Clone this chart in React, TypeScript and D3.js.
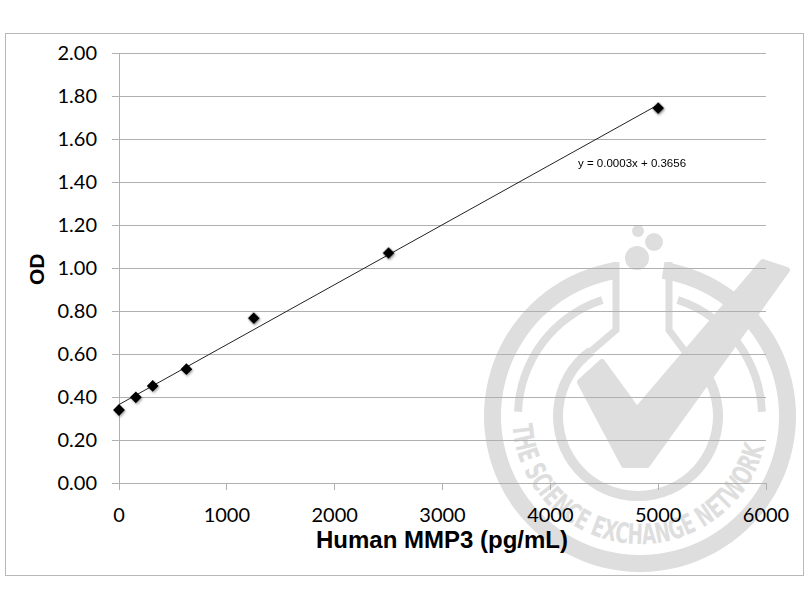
import React from "react";
import * as d3 from "d3";

// ---- data ----
const concentrations = [0, 156.25, 312.5, 625, 1250, 2500, 5000];
const odValues = [0.341, 0.4, 0.453, 0.531, 0.768, 1.071, 1.745];
const xTicks = [0, 1000, 2000, 3000, 4000, 5000, 6000];
const yTicks = [0, 0.2, 0.4, 0.6, 0.8, 1.0, 1.2, 1.4, 1.6, 1.8, 2.0];
const equationLabel = "y = 0.0003x + 0.3656";
const xTitle = "Human MMP3 (pg/mL)";
const yTitle = "OD";
const watermarkText = "THE SCIENCE EXCHANGE NETWORK";

const W = 810;
const H = 610;
const plot = { left: 119, right: 766, top: 53.3, bottom: 483.3 };

export default function App() {
  const x = d3.scaleLinear().domain([0, 6000]).range([plot.left, plot.right]);
  const y = d3.scaleLinear().domain([0, 2]).range([plot.bottom, plot.top]);

  // least squares trend line
  const mx = d3.mean(concentrations) as number;
  const my = d3.mean(odValues) as number;
  let sxy = 0;
  let sxx = 0;
  concentrations.forEach((c, i) => {
    sxy += (c - mx) * (odValues[i] - my);
    sxx += (c - mx) * (c - mx);
  });
  const slope = sxy / sxx;
  const intercept = my - slope * mx;
  const x0 = d3.min(concentrations) as number;
  const x1 = d3.max(concentrations) as number;
  const trend = d3
    .line<number>()
    .x((d) => x(d))
    .y((d) => y(intercept + slope * d))([x0, x1]);

  const diamond = d3.symbol().type(d3.symbolSquare).size(70)() as string;

  // watermark geometry
  const wm = "#dedede";
  const cx = 640;
  const cy = 416;
  const deg = Math.PI / 180;
  const outerRing = d3.arc()({
    innerRadius: 139,
    outerRadius: 156,
    startAngle: 9 * deg,
    endAngle: 351 * deg,
  }) as string;
  const midLeft = d3.arc()({
    innerRadius: 118,
    outerRadius: 126,
    startAngle: -88 * deg,
    endAngle: -18 * deg,
  }) as string;
  const midRight = d3.arc()({
    innerRadius: 118,
    outerRadius: 126,
    startAngle: 18 * deg,
    endAngle: 88 * deg,
  }) as string;
  const icx = 638;
  const icy = 416;
  const innerR = 80;
  const innerRing = d3.arc()({
    innerRadius: innerR - 5,
    outerRadius: innerR + 5,
    startAngle: 36 * deg,
    endAngle: 324 * deg,
  }) as string;
  const pL = [icx + innerR * Math.sin(-36 * deg), icy - innerR * Math.cos(-36 * deg)];
  const pR = [icx + innerR * Math.sin(36 * deg), icy - innerR * Math.cos(36 * deg)];
  const textR = 128;
  const a0 = 266 * deg;
  const a1 = 94 * deg;
  const tStart = [cx + textR * Math.sin(a0), cy - textR * Math.cos(a0)];
  const tEnd = [cx + textR * Math.sin(a1), cy - textR * Math.cos(a1)];
  const textArc = `M${tStart[0]},${tStart[1]} A${textR},${textR} 0 0 0 ${tEnd[0]},${tEnd[1]}`;
  const check = [
    [580, 382],
    [602, 362],
    [637, 410],
    [763, 262],
    [787, 270],
    [647, 465],
    [624, 465],
  ];

  return (
    <svg
      width={W}
      height={H}
      style={{ position: "absolute", left: 0, top: 0, background: "#fff" }}
    >
      <defs>
        <filter id="shadow" x="-50%" y="-50%" width="200%" height="200%">
          <feDropShadow dx="1" dy="1.5" stdDeviation="0.8" floodColor="#000" floodOpacity="0.35" />
        </filter>
        <path id="wmTextPath" d={textArc} />
      </defs>
      <rect x={5.5} y={33.5} width={798} height={542} fill="#fff" stroke="#b8b8b8" strokeWidth={1} />

      {/* watermark */}
      <g fill={wm} stroke="none">
        <path d={outerRing} transform={`translate(${cx},${cy})`} />
        <path d={midLeft} transform={`translate(${cx},${cy})`} />
        <path d={midRight} transform={`translate(${cx},${cy})`} />
        <path d={innerRing} transform={`translate(${icx},${icy})`} />
        <polyline
          points={`${pL[0]},${pL[1]} 616,330 616,262`}
          fill="none"
          stroke={wm}
          strokeWidth={7}
          strokeLinejoin="miter"
        />
        <polyline
          points={`${pR[0]},${pR[1]} 669,330 669,262`}
          fill="none"
          stroke={wm}
          strokeWidth={7}
          strokeLinejoin="miter"
        />
        <circle cx={637} cy={258} r={12} />
        <circle cx={654} cy={242} r={9} />
        <circle cx={638} cy={231} r={6} />
        <polygon
          points={check.map((p) => p.join(",")).join(" ")}
          stroke={wm}
          strokeWidth={6}
          strokeLinejoin="round"
        />
        <text
          fontFamily="'DejaVu Sans Condensed', 'DejaVu Sans', sans-serif"
          fontSize={28}
          fontWeight="bold"
          fill={wm}
        >
          <textPath href="#wmTextPath" textLength={362} lengthAdjust="spacingAndGlyphs">
            {watermarkText}
          </textPath>
        </text>
      </g>

      {/* gridlines */}
      <g stroke="#b0b0b0" strokeWidth={1} shapeRendering="crispEdges">
        {yTicks.map((t) => (
          <line key={t} x1={plot.left - 7} x2={plot.right} y1={y(t)} y2={y(t)} />
        ))}
        <line x1={plot.left} x2={plot.left} y1={plot.top} y2={plot.bottom} />
        {xTicks.map((t) => (
          <line key={t} x1={x(t)} x2={x(t)} y1={plot.bottom} y2={plot.bottom + 7} />
        ))}
      </g>

      {/* tick labels */}
      <g fontFamily="Lato, 'Open Sans', sans-serif" fontSize={20} fill="#000">
        {yTicks.map((t) => (
          <text key={t} x={97} y={y(t) + 7} textAnchor="end">
            {d3.format(".2f")(t)}
          </text>
        ))}
        {xTicks.map((t) => (
          <text key={t} x={x(t)} y={522} textAnchor="middle">
            {t}
          </text>
        ))}
      </g>

      {/* axis titles */}
      <text
        x={442}
        y={548}
        textAnchor="middle"
        fontFamily="'Liberation Sans', Arial, sans-serif"
        fontWeight="bold"
        fontSize={24}
      >
        {xTitle}
      </text>
      <text
        transform={`translate(44,${(plot.top + plot.bottom) / 2 + 1}) rotate(-90)`}
        textAnchor="middle"
        fontFamily="'Liberation Sans', Arial, sans-serif"
        fontWeight="bold"
        fontSize={21}
      >
        {yTitle}
      </text>

      {/* trend line */}
      <path d={trend as string} fill="none" stroke="#222" strokeWidth={1} />

      {/* markers */}
      <g filter="url(#shadow)">
        {concentrations.map((c, i) => (
          <path
            key={c}
            d={diamond}
            transform={`translate(${x(c)},${y(odValues[i])}) rotate(45)`}
            fill="#000"
          />
        ))}
      </g>

      <text
        x={578}
        y={167}
        fontFamily="'Liberation Sans', Arial, sans-serif"
        fontSize={11.5}
        fill="#000"
      >
        {equationLabel}
      </text>
    </svg>
  );
}
